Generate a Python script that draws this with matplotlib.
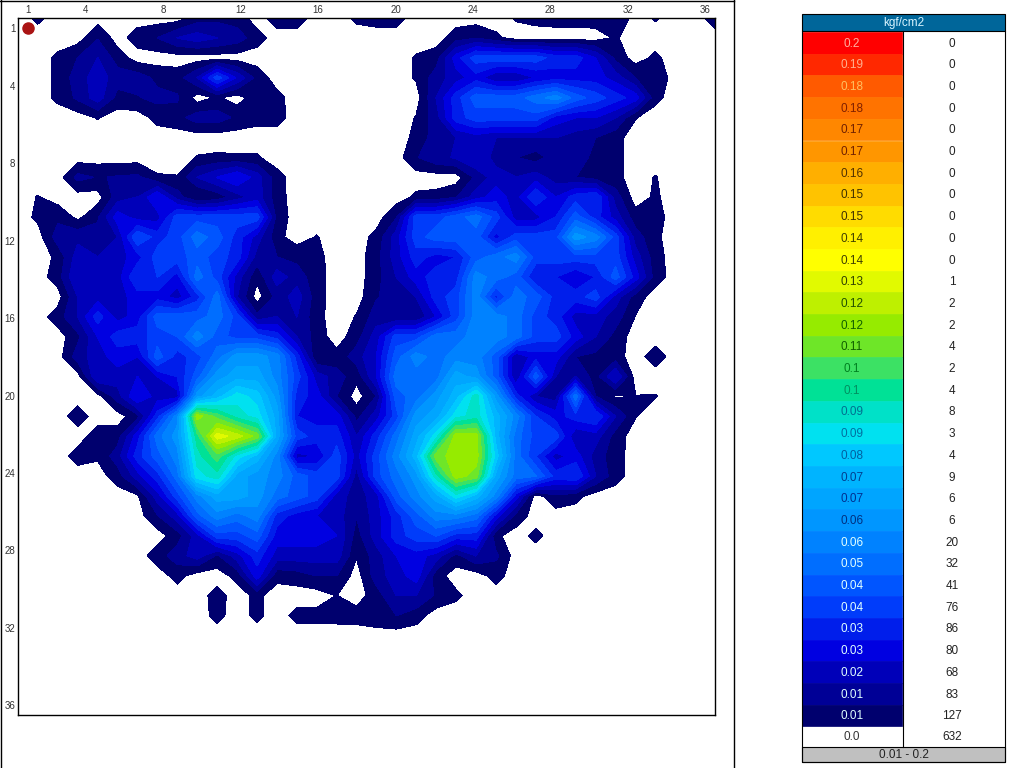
import numpy as np
import matplotlib
matplotlib.use('Agg')
import matplotlib.pyplot as plt
from matplotlib.lines import Line2D

plt.rcParams['font.family'] = ['Liberation Sans', 'DejaVu Sans']

# sensor readings, 36 x 36, in colour-band units (1 band = 0.2/32 kgf/cm2)
pressure = [
[0,.7,0,0,0,0,0,0,0,1,1.2,1,0,1,1,0,0,.7,.9,.9,0,0,0,0,0,.6,.8,.9,.9,1,1.5,0,.6,0,0,1],
[0,0,0,0,1.4,0,1,1.5,2.5,3,2.5,2,.9,0,0,0,0,0,0,0,0,0,1,1.4,.7,0,0,0,0,0,.6,0,0,0,0,0],
[0,0,.7,1.5,2.5,1,0,0,0,0,0,0,0,0,0,0,0,0,0,0,.6,1,4,6,6,6,6,5,5,3.5,1.2,0,.7,0,0,0],
[0,0,.7,2,3,2,2,1.2,1,2.5,6,3.3,1.1,0,0,0,0,0,0,0,.6,2,3,4,2.5,2.5,3.5,4,4,4,3,1.5,1.3,0,0,0],
[0,0,.7,1.7,3,1.1,1.4,1.8,1.6,0,.6,0,1,.8,0,0,0,0,0,0,0,2.5,5,7,7,7,8,9,7,6,5,4,.8,0,0,0],
[0,0,0,0,.55,0,0,.8,1.1,2,2,1.25,.85,.85,0,0,0,0,0,0,.55,2,5,6,6,6,6,4,3.5,3.5,2.5,.55,0,0,0,0],
[0,0,0,0,0,0,0,0,0,0,0,0,0,0,0,0,0,0,0,0,.75,2,2.5,3,2.5,2.5,2.5,2.5,2,1.5,.85,0,0,0,0,0],
[0,0,0,0,0,0,0,0,0,.55,.65,.6,.6,0,0,0,0,0,0,0,1.4,2.2,2.6,3.5,2,1.5,1,2,2,1.2,.8,0,0,0,0,0],
[0,0,0,1.8,1.4,1.6,1.7,.6,.55,2.5,3.5,4.5,3,.85,0,0,0,0,0,0,0,0,0,1.7,3,2.5,3,2,1.5,1,.8,0,.55,0,0,0],
[0,.55,0,0,0,2,2.5,4.5,2,.3,.8,2,3,.9,0,0,0,0,0,0,.7,.8,1.4,3,4,3,5.5,3.5,5,5.5,2,0,.65,0,0,0],
[0,.7,1.25,.2,1.3,4,3,3,6,6,6,6,6,1.1,0,0,0,0,0,1.4,6,6,7,8,6,3,3,4.5,7,5,3,.9,.9,0,0,0],
[0,0,2,2.2,2,2.5,6.5,5,6,8,7,5,3,.8,0,.55,0,0,.8,3,6,7,7,7,4,6,6,6,10,9,6,2,.7,0,0,0],
[0,0,.7,3,2.5,3,4,6,6,7,6,5,2,1.5,1.2,.8,0,0,1.1,3,5,4,4.5,7,8,9,6,6,6,6,6,3,.9,0,0,0],
[0,0,1,3.5,3,3,5.5,5.5,4,8,6,3,.7,3,2,.9,0,0,1.1,2.5,4,5,5,9,8,7,4.5,4.5,3.5,4.5,7,4,1,0,0,0],
[0,0,0,2.5,3,3,4,4,3,5,8,2.5,0,1.8,3,.9,0,0,1.4,2,2.5,5,6,9,5,8,7,5,5,6,3,1,0,0,0,0],
[0,0,1,2.5,5,3,4,7,7,7,8,6,1.7,2.5,2.5,.8,0,.55,2,1.5,1.5,3.5,6,9,9,8,6,5,3,3,2,.45,0,0,0,0],
[0,0,0,1.2,3.5,5,5,6,6.5,9,7,6,6,5,2.5,1,0,1,3,6,6,8,8,9,9,8,6,6,4,2.5,1.1,0,0,0,0,0],
[0,0,0,2,3,4,3.5,7,5,6,8,10,10,9,5,.45,.8,2,3.5,7,9,8,9,9,7,2.5,4,4,1.5,1.2,.9,0,1,0,0,0],
[0,0,0,0,3.5,3,3.5,3.5,4.5,7,10,11,11,9,6,3,2,.8,3.5,8,8,8,11,10,7,2.5,7,2.5,2.5,1,3.5,0,0,0,0,0],
[0,0,0,0,0,2,4.5,3,3,10,12,14,13,10,5,4,1.5,0,1.5,7,8,10,12,15,10,5,2.5,2,8,1.5,.3,.52,.55,0,0,0],
[0,0,0,1,0,0,1.1,5,9,19,17,15,14,11,4.5,4,4,1.1,3,6,10,11,14,15,12,9,5.5,4,5,5.5,2.5,.55,0,0,0,0],
[0,0,0,0,1,1,4,8,10,16,21,20,18,11,6,5,5,2.5,5,8,11,14,19,19,12,8,6,6,2.5,3,1,0,0,0,0,0],
[0,0,0,.9,.65,2,5,7,9,15,17,14,12,9,3,3.5,6,3,6,9,12,18,19,19,13,8,5.5,3,4,2,.9,0,0,0,0,0],
[0,0,0,0,0,1,3,5,8,14,15,11,10,9,7,6,6,2,6,8,10,15,19,18,11,8,7.5,5,5.5,2.5,.9,0,0,0,0,0],
[0,0,0,0,0,0,.3,3,6,9,11,11,10,8,7,6,3,2,3,7,9,11,14,12,9,4,0,1.25,.8,0,0,0,0,0,0,0],
[0,0,0,0,0,0,0,1.4,3,7,9,8,9,5,4,3.5,3,1.5,3,5,7,9,9,8,4,1.1,0,0,0,0,0,0,0,0,0,0],
[0,0,0,0,0,0,0,0,1,3,6,6,7,4,4,4,3.5,1,3,5,6,6.5,5,5,.7,0,.75,0,0,0,0,0,0,0,0,0],
[0,0,0,0,0,0,0,1,2,3,1.3,3,5,3,3,3,3,.55,2,3.5,4,3,1.1,2.5,1.7,0,0,0,0,0,0,0,0,0,0,0],
[0,0,0,0,0,0,0,0,.85,0,0,.83,4,.8,1,1.5,1.5,0,2,3,4,.9,0,0,.85,0,0,0,0,0,0,0,0,0,0,0],
[0,0,0,0,0,0,0,0,0,0,.9,0,.75,0,0,0,.5,0,1,2.5,2.5,1.3,.7,0,0,0,0,0,0,0,0,0,0,0,0,0],
[0,0,0,0,0,0,0,0,0,0,.8,0,.75,0,.8,.8,.85,.9,1.2,1.5,.9,0,0,0,0,0,0,0,0,0,0,0,0,0,0,0],
[0]*36,
[0]*36,
[0]*36,
[0]*36,
[0]*36,
]

tick_labels = [1, 4, 8, 12, 16, 20, 24, 28, 32, 36]

# legend table, top row first
band_labels = ['0.2','0.19','0.18','0.18','0.17','0.17','0.16','0.15','0.15','0.14','0.14',
               '0.13','0.12','0.12','0.11','0.1','0.1','0.09','0.09','0.08','0.07','0.07',
               '0.06','0.06','0.05','0.04','0.04','0.03','0.03','0.02','0.01','0.01']
band_counts = [0,0,0,0,0,0,0,0,0,0,0,1,2,2,4,2,4,8,3,4,9,6,6,20,32,41,76,86,80,68,83,127]
band_colors = ['#ff0000','#ff2800','#ff5a00','#ff7300','#ff8700','#ff9600','#ffaf00','#ffc300',
               '#ffdc00','#fff000','#ffff00','#e1fa00','#beF000','#96eb00','#6ee628','#3ce164',
               '#00e196','#00e1c8','#00e1f0','#00c8ff','#00b4ff','#00a5ff','#0096ff','#0082ff',
               '#006eff','#0055ff','#003cfa','#001eeb','#0000e1','#0000b9','#000096','#00006e']
text_colors = ['#ffb0a0','#ffb090','#ffc060','#802000','#702000','#702000','#503000','#403000',
               '#403000','#404000','#404000','#304000','#205000','#106000','#106000','#008020',
               '#009060','#007090','#0070a0','#0060a0','#004090','#003090','#003080','#e0ffff',
               '#e0ffff','#e0ffff','#e0ffff','#e0ffff','#e0ffff','#e0ffff','#e0ffff','#e0ffff']

data = np.array(pressure, dtype=float)
n_bands = len(band_colors)

fig = plt.figure(figsize=(10.24, 7.68), dpi=100)
W, H = 1024.0, 768.0

# pressure map
ax = fig.add_axes([18/W, 1-715/H, 697/W, 697/H])
grid = np.linspace(0, 36, 36)
levels = np.arange(0.5, n_bands + 1.5)
cs = ax.contourf(grid, grid, data, levels=levels, colors=band_colors[::-1])
# same-colour edges close the seams between the bands
cs.set_edgecolor('face')
cs.set_linewidth(0.5)
ax.plot(0.5, 0.5, 'o', ms=8, color='#aa1414', zorder=5)
ax.set_xlim(0, 36)
ax.set_ylim(36, 0)
ax.xaxis.tick_top()
ticks = [t - 0.5 for t in tick_labels]
ax.set_xticks(ticks, tick_labels)
ax.set_yticks(ticks, tick_labels)
ax.tick_params(length=0, labelsize=7, pad=2, colors='#333333')
for s in ax.spines.values():
    s.set_linewidth(1)

# window border
fig.add_artist(Line2D([0.5/W, 0.5/W], [0, 1], color='k', lw=1))
fig.add_artist(Line2D([0, 734/W], [1-0.5/H, 1-0.5/H], color='k', lw=1))
fig.add_artist(Line2D([734/W, 734/W], [0, 1], color='k', lw=1))

# legend table in pixel coordinates
tab = fig.add_axes([0, 0, 1, 1])
tab.set_xlim(0, W)
tab.set_ylim(H, 0)
tab.axis('off')
top, row_h = 32.0, 21.7
ys = top + row_h * (np.arange(n_bands) + 0.5)
tab.barh(ys, [100]*n_bands, height=row_h, left=802, color=band_colors,
         edgecolor=band_colors, linewidth=0.5)
tab.barh([22.5], [203], height=17, left=802, color='#00669a', edgecolor='k', linewidth=0.8)
tab.text(903.5, 23, 'kgf/cm2', ha='center', va='center', fontsize=8.5, color='#d8f4ff')
for y, lab, cnt, tc in zip(ys, band_labels, band_counts, text_colors):
    tab.text(852, y + 0.7, lab, ha='center', va='center', fontsize=8.5, color=tc)
    tab.text(952, y + 0.7, str(cnt), ha='center', va='center', fontsize=8.5, color='#222222')
y0 = top + row_h * n_bands
tab.text(852, y0 + 11, '0.0', ha='center', va='center', fontsize=8.5, color='#333333')
tab.text(952, y0 + 11, '632', ha='center', va='center', fontsize=8.5, color='#222222')
tab.plot([802, 802, 1005, 1005], [31, 762, 762, 31], color='k', lw=0.8)
tab.plot([902.5, 902.5], [31, 747], color='k', lw=0.8)
tab.barh([754.5], [203], height=15, left=802, color='#c0c0c0', edgecolor='k', linewidth=0.8)
tab.text(903.5, 755, '0.01 - 0.2', ha='center', va='center', fontsize=8.5, color='#222222')

fig.savefig('out.png', dpi=100)
